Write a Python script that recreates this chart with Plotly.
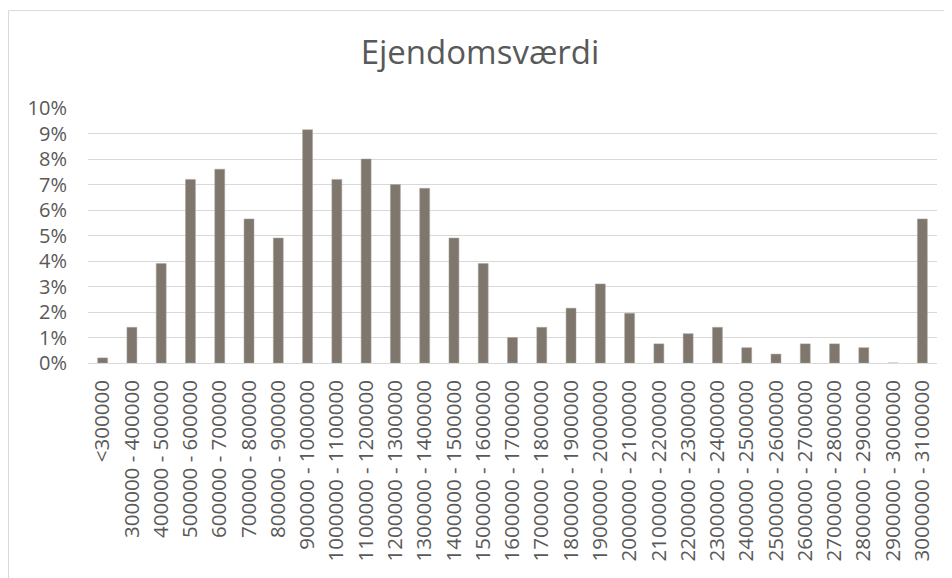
import plotly.graph_objects as go

# value bands (DKK) and share of properties
categories = ["<300000"] + [f"{lo} - {lo + 100000}" for lo in range(300000, 3000001, 100000)]
shares = [
    0.2, 1.4, 3.9, 7.2, 7.6, 5.65, 4.9, 9.15, 7.2, 8.0,
    7.0, 6.85, 4.9, 3.9, 1.0, 1.4, 2.15, 3.1, 1.95, 0.75,
    1.15, 1.4, 0.6, 0.35, 0.75, 0.75, 0.6, 0.0, 5.65,
]
y_ticks = list(range(0, 11))

grey = "#595959"
font = "Open Sans, sans-serif"

fig = go.Figure(go.Bar(
    x=categories,
    y=[s / 100 for s in shares],
    marker=dict(color="#7f776d", line=dict(color="#a8a29b", width=0.5)),
    width=0.34,
))

# page body adds an 8px margin, so the figure is sized to fit the window
fig.update_layout(
    title=dict(text="Ejendomsværdi", x=0.5, xref="container", xanchor="center",
               y=0.922, yref="container", yanchor="middle",
               font=dict(family=font, size=33, color=grey)),
    width=944, height=570,
    margin=dict(l=80, r=15, t=100, b=215),
    paper_bgcolor="white", plot_bgcolor="white",
    showlegend=False,
    font=dict(family=font, color=grey),
)
fig.update_xaxes(
    tickangle=-90, tickfont=dict(size=20.5, color=grey),
    showgrid=False, showline=False, ticks="", ticklabelstandoff=12,
)
fig.update_yaxes(
    range=[0, 0.1], tickvals=[t / 100 for t in y_ticks],
    ticktext=[f"{t}%" for t in y_ticks],
    tickfont=dict(size=20, color=grey),
    showgrid=True, gridcolor="#d9d9d9", gridwidth=1,
    zeroline=True, zerolinecolor="#d9d9d9", zerolinewidth=1,
    showline=False, ticks="", ticklabelstandoff=20,
)
# chart frame, partly outside the screenshot
fig.add_shape(type="rect", xref="paper", yref="paper",
              x0=-0.0936, x1=1.2, y0=-1.0, y1=1.382,
              line=dict(color="#d9d9d9", width=1), layer="below")

fig.write_html("out.html")
